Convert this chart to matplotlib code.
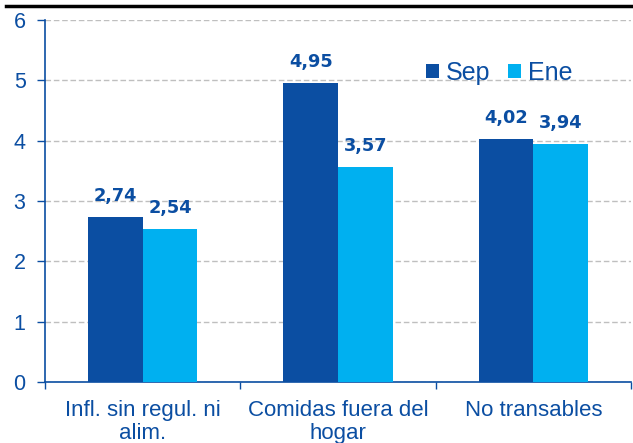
import matplotlib
matplotlib.use("Agg")
import matplotlib.pyplot as plt
import numpy as np
from matplotlib.lines import Line2D

categories = ["Infl. sin regul. ni\nalim.", "Comidas fuera del\nhogar", "No transables"]
sep = [2.74, 4.95, 4.02]
ene = [2.54, 3.57, 3.94]
series_names = ["Sep", "Ene"]

dark = "#0B4EA2"
light = "#00B0F0"

plt.rcParams['font.family'] = ['Liberation Sans', 'DejaVu Sans']

fig = plt.figure(figsize=(6.33, 4.43), dpi=100)
ax = fig.add_axes([0.0711, 0.1377, 0.9257, 0.8172])

x = np.arange(len(categories))
w = 0.28
b1 = ax.bar(x - w / 2, sep, w, color=dark, label=series_names[0], zorder=3)
b2 = ax.bar(x + w / 2, ene, w, color=light, label=series_names[1], zorder=3)

for bars, vals in ((b1, sep), (b2, ene)):
    for r, v in zip(bars, vals):
        ax.annotate(f"{v:.2f}".replace(".", ","),
                    (r.get_x() + r.get_width() / 2, v),
                    xytext=(0, 11.5), textcoords="offset points",
                    ha="center", va="baseline", color=dark,
                    fontsize=12.8, fontweight="bold", family="DejaVu Sans")

ax.set_ylim(0, 6)
ax.set_xlim(-0.5, 2.5)
ax.set_yticks(range(0, 7))
ax.yaxis.grid(True, linestyle=(0, (4, 2)), color="#BFBFBF", linewidth=1)
ax.set_axisbelow(True)

ax.set_xticks(x)
ax.set_xticklabels(categories, fontsize=16, color=dark, linespacing=1.15)
ax.set_xticks([-0.5, 0.5, 1.5, 2.5], minor=True)
ax.tick_params(axis="x", which="major", length=0, pad=13)
ax.tick_params(axis="x", which="minor", length=5, color=dark, width=1)
ax.tick_params(axis="y", labelsize=15.5, labelcolor=dark, color=dark, length=6, width=1, pad=8)

for s in ("top", "right"):
    ax.spines[s].set_visible(False)
for s in ("left", "bottom"):
    ax.spines[s].set_color(dark)
    ax.spines[s].set_linewidth(1.2)

ax.legend(loc="upper left", bbox_to_anchor=(0.6502, 0.887), ncol=2, frameon=False,
          fontsize=18, labelcolor=dark, handlelength=0.52, handleheight=0.52,
          handletextpad=0.28, columnspacing=0.68, borderaxespad=0, borderpad=0)

fig.add_artist(Line2D([0.01, 1.0], [0.987, 0.987], color="black", linewidth=2.5,
                      transform=fig.transFigure))

fig.savefig("out.png", dpi=100)
